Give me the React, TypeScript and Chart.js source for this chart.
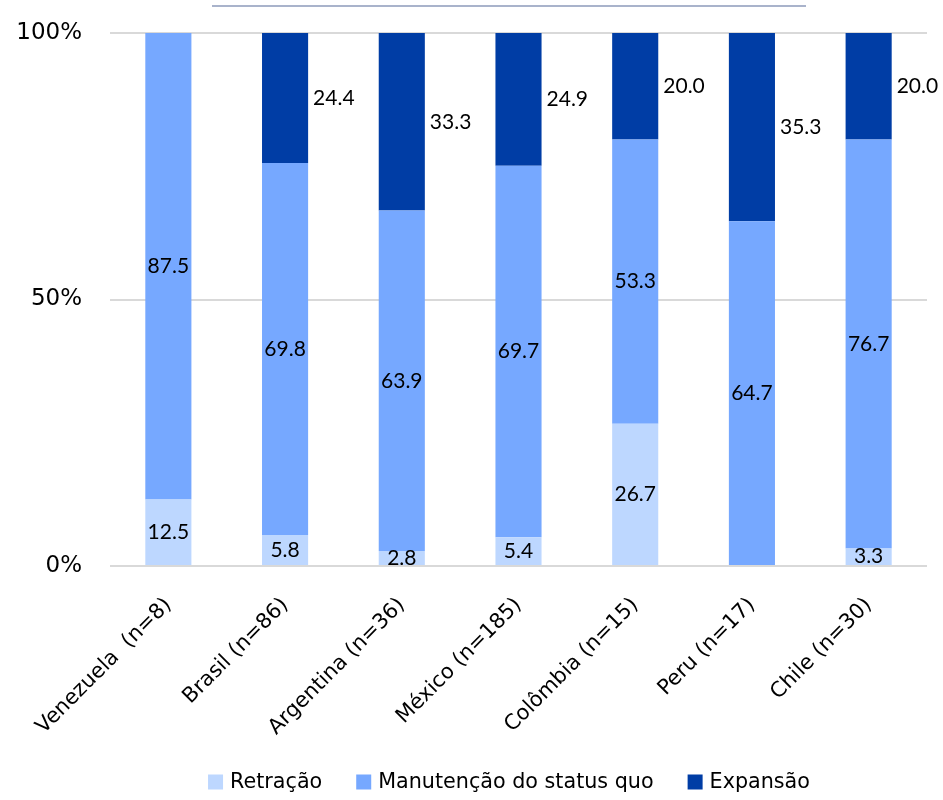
import React, { useEffect, useRef } from "react";
import { Chart, registerables } from "chart.js";

Chart.register(...registerables);

const categories = [
  "Venezuela  (n=8)",
  "Brasil (n=86)",
  "Argentina (n=36)",
  "México (n=185)",
  "Colômbia (n=15)",
  "Peru (n=17)",
  "Chile (n=30)",
];
const retracao = [12.5, 5.8, 2.8, 5.4, 26.7, 0, 3.3];
const manutencao = [87.5, 69.8, 63.9, 69.7, 53.3, 64.7, 76.7];
const expansao = [0, 24.4, 33.3, 24.9, 20.0, 35.3, 20.0];
const seriesNames = ["Retração", "Manutenção do status quo", "Expansão"];
const yTicks = [0, 50, 100];

const COLORS = ["#BDD7FF", "#76A8FF", "#003DA5"];
const AXIS_FONT = "'DejaVu Sans', Verdana, sans-serif";
const LABEL_FONT = "Lato, 'Open Sans', sans-serif";

const labelsPlugin = {
  id: "customLabels",
  afterDatasetsDraw(chart: any) {
    const ctx = chart.ctx;
    ctx.save();
    ctx.fillStyle = "#000";
    ctx.font = `21px ${LABEL_FONT}`;
    ctx.textBaseline = "middle";
    chart.data.datasets.forEach((ds: any, di: number) => {
      const meta = chart.getDatasetMeta(di);
      meta.data.forEach((bar: any, i: number) => {
        const v = ds.data[i];
        if (!v) return;
        const top = Math.min(bar.y, bar.base);
        const bottom = Math.max(bar.y, bar.base);
        const cy = (top + bottom) / 2;
        const text = v.toFixed(1);
        if (di === 2) {
          ctx.textAlign = "left";
          ctx.fillText(text, bar.x + bar.width / 2 + 5, cy);
        } else {
          ctx.textAlign = "center";
          ctx.fillText(text, bar.x, cy);
        }
      });
    });
    ctx.restore();
  },
  afterDraw(chart: any) {
    const ctx = chart.ctx;
    ctx.save();
    // decorative line at top
    ctx.strokeStyle = "#A9B3CB";
    ctx.lineWidth = 2;
    ctx.beginPath();
    ctx.moveTo(212, 6);
    ctx.lineTo(806, 6);
    ctx.stroke();
    // legend
    ctx.font = `20.7px ${AXIS_FONT}`;
    ctx.textBaseline = "middle";
    ctx.textAlign = "left";
    const box = 15;
    const gap = 7;
    const spacing = 34;
    const widths = seriesNames.map((n) => ctx.measureText(n).width);
    const total =
      widths.reduce((a, w) => a + box + gap + w, 0) + spacing * (seriesNames.length - 1);
    let x = 509 - total / 2;
    const cy = 782;
    seriesNames.forEach((n, i) => {
      ctx.fillStyle = COLORS[i];
      ctx.fillRect(x, cy - box / 2, box, box);
      ctx.fillStyle = "#000";
      ctx.fillText(n, x + box + gap, cy + 1);
      x += box + gap + widths[i] + spacing;
    });
    ctx.restore();
  },
};

export default function App() {
  const ref = useRef<HTMLCanvasElement | null>(null);
  useEffect(() => {
    if (!ref.current) return;
    const chart = new Chart(ref.current, {
      type: "bar",
      data: {
        labels: categories,
        datasets: [
          { label: seriesNames[0], data: retracao, backgroundColor: COLORS[0] },
          { label: seriesNames[1], data: manutencao, backgroundColor: COLORS[1] },
          { label: seriesNames[2], data: expansao, backgroundColor: COLORS[2] },
        ].map((d) => ({ ...d, barPercentage: 0.395, categoryPercentage: 1, borderWidth: 0 })),
      },
      options: {
        animation: false,
        responsive: false,
        layout: { padding: { top: 33, right: 16, left: 0, bottom: 0 } },
        plugins: { legend: { display: false }, tooltip: { enabled: false } },
        scales: {
          x: {
            stacked: true,
            grid: { display: false },
            border: { display: false },
            ticks: {
              minRotation: 45,
              maxRotation: 45,
              autoSkip: false,
              padding: 19,
              color: "#000",
              font: { family: AXIS_FONT, size: 21 },
            },
            afterFit: (s: any) => {
              s.height = 800 - 566;
              s.paddingLeft = 0;
              s.paddingRight = 0;
              s.paddingTop = 0;
              s.paddingBottom = 0;
            },
          },
          y: {
            stacked: true,
            min: 0,
            max: 100,
            afterBuildTicks: (s: any) => {
              s.ticks = yTicks.map((v) => ({ value: v }));
            },
            grid: { color: "#D9D9D9", lineWidth: 2, drawTicks: false },
            border: { display: false },
            ticks: {
              padding: 28,
              color: "#000",
              font: { family: AXIS_FONT, size: 23 },
              callback: (v: any) => v + "%",
            },
            afterFit: (s: any) => {
              s.width = 110;
              s.paddingTop = 0;
              s.paddingBottom = 0;
            },
          },
        },
      },
      plugins: [labelsPlugin],
    });
    return () => chart.destroy();
  }, []);
  return (
    <div style={{ position: "fixed", left: 0, top: 0, width: 943, height: 800, background: "#fff" }}>
      <canvas ref={ref} width={943} height={800} />
    </div>
  );
}
